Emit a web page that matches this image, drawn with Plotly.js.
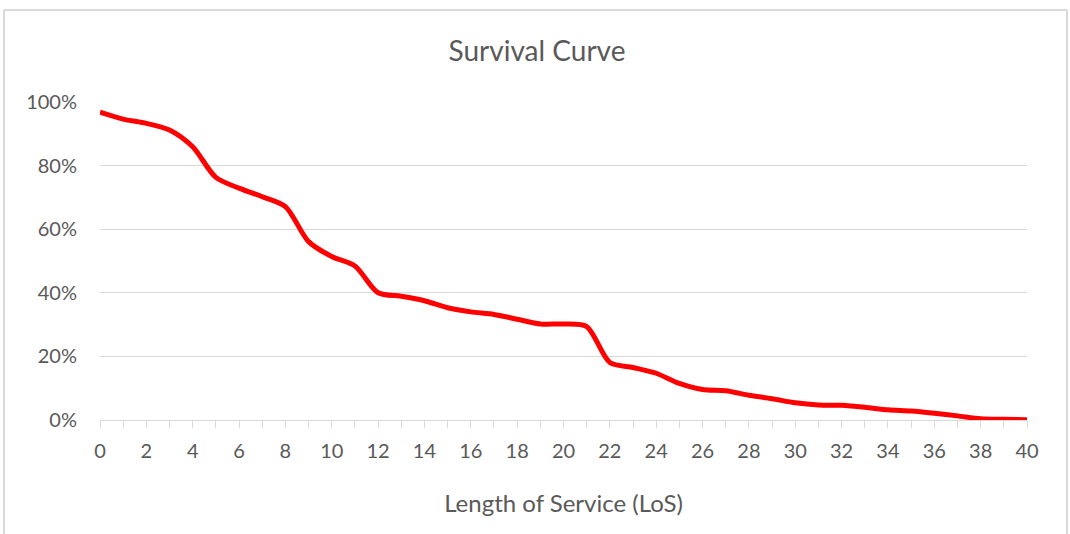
<!DOCTYPE html>
<html>
<head>
<meta charset="utf-8">
<script src="https://cdn.plot.ly/plotly-3.0.1.min.js"></script>
<style>
  html, body { margin: 0; padding: 0; background: #ffffff; }
  #wrap { position: relative; width: 1070px; height: 534px; overflow: hidden; }
  #chart { position: absolute; left: 0; top: 0; width: 1070px; height: 534px; }
  #frame { position: absolute; left: 3px; top: 9px; width: 1061px; height: 540px;
           border: 2px solid #d9d9d9; border-radius: 2px; pointer-events: none; }
</style>
</head>
<body>
<div id="wrap">
  <div id="chart"></div>
  <div id="frame"></div>
</div>
<script>
// Length of Service (years)
const losYears = [0,1,2,3,4,5,6,7,8,9,10,11,12,13,14,15,16,17,18,19,20,
                  21,22,23,24,25,26,27,28,29,30,31,32,33,34,35,36,37,38,39,40];
// Survival (%)
const survivalPct = [96.8,94.6,93.3,91.2,85.9,76.3,72.9,70.2,67.1,56.1,51.4,
                     48.4,40.0,38.9,37.5,35.3,34.0,33.2,31.7,30.2,30.2,
                     29.4,18.1,16.5,14.7,11.5,9.6,9.2,7.8,6.7,5.4,
                     4.7,4.6,4.0,3.2,2.8,2.1,1.3,0.4,0.2,0.1];
const chartTitle = "Survival Curve";
const xTitle = "Length of Service (LoS)";

const fontFam = "Lato, 'Open Sans', sans-serif";
const grey = "#595959";
const gridCol = "#d9d9d9";

const trace = {
  x: losYears,
  y: survivalPct,
  type: "scatter",
  mode: "lines",
  line: { color: "#ff0000", width: 5, shape: "spline", smoothing: 0.8 },
  hoverinfo: "x+y"
};

const layout = {
  width: 1070,
  height: 534,
  margin: { l: 100, r: 43, t: 102, b: 114 },
  paper_bgcolor: "#ffffff",
  plot_bgcolor: "#ffffff",
  showlegend: false,
  font: { family: fontFam, color: grey, size: 20 },
  title: {
    text: chartTitle,
    font: { family: fontFam, size: 28, color: grey },
    x: 537 / 1070, xref: "container", xanchor: "center",
    y: 50, yref: "container", yanchor: "middle"
  },
  xaxis: {
    range: [0, 40],
    tick0: 0, dtick: 2,
    showgrid: false,
    zeroline: false,
    showline: true, linecolor: gridCol, linewidth: 1,
    ticks: "outside", ticklen: 7, tickcolor: gridCol, tickwidth: 1,
    minor: { dtick: 1, ticks: "outside", ticklen: 7, tickcolor: gridCol, tickwidth: 1, showgrid: false },
    tickfont: { family: fontFam, size: 20, color: grey },
    ticklabelstandoff: 6,
    title: { text: xTitle, font: { family: fontFam, size: 24, color: grey }, standoff: 34 },
    fixedrange: true
  },
  yaxis: {
    range: [0, 100],
    tick0: 0, dtick: 20,
    ticksuffix: "%",
    showgrid: true, gridcolor: gridCol, gridwidth: 1,
    zeroline: false,
    showline: false,
    ticks: "",
    tickfont: { family: fontFam, size: 20, color: grey },
    ticklabelstandoff: 22,
    fixedrange: true
  }
};

Plotly.newPlot("chart", [trace], layout, { displayModeBar: false, staticPlot: true });
</script>
</body>
</html>
